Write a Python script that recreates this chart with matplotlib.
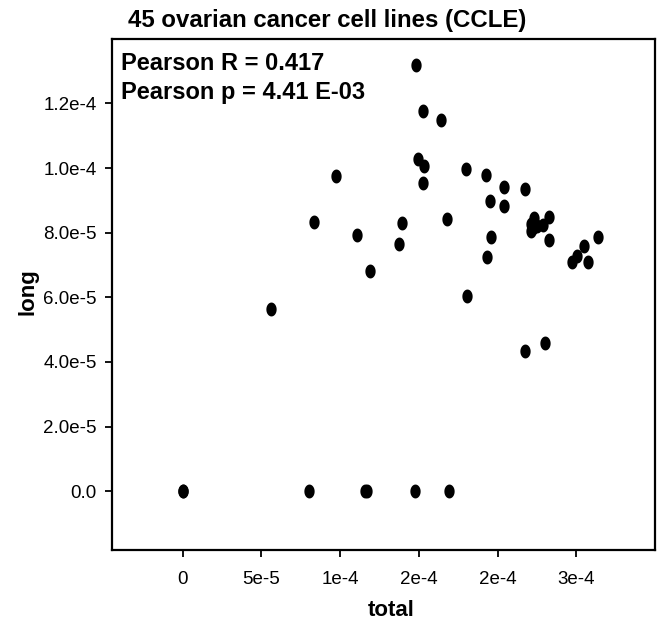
import numpy as np
import matplotlib
matplotlib.use("Agg")
import matplotlib.pyplot as plt
from matplotlib.path import Path
from matplotlib.ticker import FixedLocator

plt.rcParams['font.family'] = ['Liberation Sans', 'DejaVu Sans']

# data (units: 1e-5)
total_e5 = [14.82, 15.25, 16.39, 14.92, 15.35, 15.27, 9.74, 18.02, 19.26, 20.41,
            21.75, 19.54, 20.43, 8.34, 13.95, 16.81, 11.05, 13.76, 19.57, 19.31,
            11.92, 18.06, 5.63, 22.32, 22.13, 22.13, 22.49, 22.91, 23.28, 23.24,
            26.37, 25.50, 25.07, 24.75, 25.75, 21.75, 23.00, 0.0, 8.0, 11.58,
            11.71, 14.74, 16.94, 0.0, 22.22]
long_e5 = [13.18, 11.76, 11.50, 10.28, 10.06, 9.53, 9.75, 9.98, 9.78, 9.41,
           9.35, 8.97, 8.81, 8.33, 8.29, 8.42, 7.92, 7.64, 7.86, 7.25,
           6.80, 6.03, 5.64, 8.44, 8.27, 8.05, 8.20, 8.23, 8.49, 7.76,
           7.88, 7.60, 7.29, 7.09, 7.08, 4.35, 4.60, 0.0, 0.0, 0.0,
           0.0, 0.0, 0.0, 0.0, 8.14]
total = np.array(total_e5) * 1e-5
long_ = np.array(long_e5) * 1e-5

x_ticks = [0, 5e-5, 1e-4, 1.5e-4, 2e-4, 2.5e-4]
x_ticklabels = ["0", "5e-5", "1e-4", "2e-4", "2e-4", "3e-4"]
y_ticks = [0, 2e-5, 4e-5, 6e-5, 8e-5, 1e-4, 1.2e-4]
y_ticklabels = ["0.0", "2.0e-5", "4.0e-5", "6.0e-5", "8.0e-5", "1.0e-4", "1.2e-4"]

title = "45 ovarian cancer cell lines (CCLE)"

W, H = 664, 623
fig = plt.figure(figsize=(W / 100, H / 100), dpi=100)
L, R, T, B = 112, 655, 39, 550
ax = fig.add_axes([L / W, (H - B) / H, (R - L) / W, (B - T) / H])

# elliptical marker
theta = np.linspace(0, 2 * np.pi, 60)
verts = np.column_stack([0.74 * np.cos(theta), np.sin(theta)])
ell = Path(verts, closed=True)
ax.scatter(total, long_, s=100, marker=ell, color='black', linewidths=0)

ax.set_xlim(-4.49e-5, 3.0e-4)
ax.set_ylim(-1.815e-5, 1.399e-4)
ax.xaxis.set_major_locator(FixedLocator(x_ticks))
ax.set_xticklabels(x_ticklabels)
ax.yaxis.set_major_locator(FixedLocator(y_ticks))
ax.set_yticklabels(y_ticklabels)
ax.tick_params(direction='out', length=5, width=1.3, labelsize=13.5, colors='black')
ax.tick_params(axis='x', pad=10)
ax.tick_params(axis='y', pad=6)
for s in ax.spines.values():
    s.set_linewidth(1.6)
    s.set_color('black')

fig.text(391 / W, 1 - 611 / H, "total", ha='center', va='center', fontsize=16, fontweight='bold')
fig.text(28 / W, 1 - 292 / H, "long", ha='center', va='center', fontsize=16, fontweight='bold', rotation=90)
fig.text(128 / W, 1 - 21 / H, title, ha='left', va='center', fontsize=17.3, fontweight='bold')
ax.text(121 / W, 1 - 69.5 / H, "Pearson R = 0.417", transform=fig.transFigure, ha='left', va='baseline',
        fontsize=17, fontweight='bold')
ax.text(121 / W, 1 - 98.5 / H, "Pearson p = 4.41 E-03", transform=fig.transFigure, ha='left', va='baseline',
        fontsize=17, fontweight='bold')

fig.savefig("out.png", dpi=100)
